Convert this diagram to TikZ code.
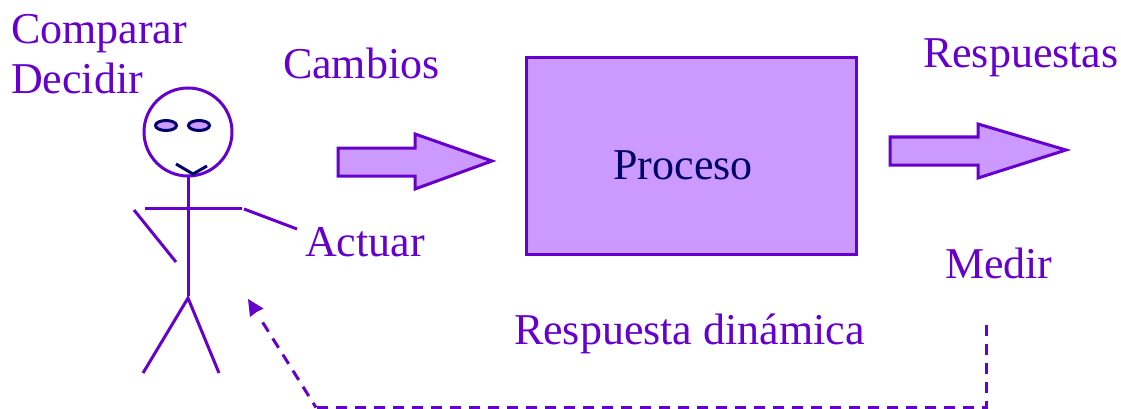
\documentclass[tikz,border=0pt]{standalone}
\usepackage{fontspec}
\setmainfont{Liberation Serif}
\usetikzlibrary{arrows.meta,calc,shapes.geometric}
\definecolor{violetline}{HTML}{6600CC}
\definecolor{lilacfill}{HTML}{CC99FF}
\definecolor{navyink}{HTML}{000066}
\tikzset{
  label text/.style={text=violetline,font=\fontsize{44}{44}\selectfont,anchor=base west,inner sep=0pt,outer sep=0pt},
  stickline/.style={draw=violetline,line width=3pt},
  facemark/.style={draw=navyink,line width=3pt},
  block arrow/.style={draw=violetline,fill=lilacfill,line width=3pt,miter limit=10},
  feedback/.style={draw=violetline,line width=3pt,dash pattern=on 11pt off 8pt}
}
\begin{document}
\begin{tikzpicture}[x=1pt,y=-1pt]
\useasboundingbox (0,0) rectangle (1121,409);

% Labels
\node[label text] (comparar) at (11,44) {Comparar};
\node[label text] (decidir) at (11,94) {Decidir};
\node[label text] (cambios) at (283,79) {Cambios};
\node[label text] (respuestas) at (923,68) {Respuestas};
\node[label text] (actuar) at (305,256) {Actuar};
\node[label text] (medir) at (945,278) {Medir};
\node[label text] (dinamica) at (514,344) {Respuesta dinámica};

% Process block
\node[draw=violetline,fill=lilacfill,line width=3pt,minimum width=329.5pt,minimum height=196.5pt,
      inner sep=0pt,outer sep=0pt,anchor=north west] (proceso) at (526.5,57.5) {};
\node[text=navyink,font=\fontsize{44}{44}\selectfont,anchor=base,inner sep=0pt] (procesotext) at (683,179) {Proceso};

% Block arrows for the input changes and the output responses
\draw[block arrow] (338,148) -- (415,148) -- (415,134) -- (492,161) -- (415,189) -- (415,176) -- (338,176) -- cycle;
\draw[block arrow] (890,137) -- (978,137) -- (978,124) -- (1066,150) -- (978,178) -- (978,165) -- (890,165) -- cycle;

% Stick figure
\node[circle,draw=violetline,line width=3pt,minimum size=88pt,inner sep=0pt,outer sep=0pt] (head) at (188,132) {};
\node[ellipse,facemark,fill=lilacfill,minimum width=21pt,minimum height=10pt,inner sep=0pt,outer sep=0pt] (lefteye) at (166,125.5) {};
\node[ellipse,facemark,fill=lilacfill,minimum width=21pt,minimum height=10pt,inner sep=0pt,outer sep=0pt] (righteye) at (199,125.5) {};
\coordinate (mouthl) at (176,164);
\coordinate (mouthm) at (193,174);
\coordinate (mouthr) at (207,166);
\draw[facemark] (mouthl) -- (mouthm) -- (mouthr);
\coordinate (hip) at (188,296);
\coordinate (shoulderl) at (145,208);
\coordinate (shoulderr) at (242,208);
\draw[stickline] (head.south) -- (hip);
\draw[stickline] (shoulderl) -- (shoulderr);
\coordinate (armrt) at (244,209);
\coordinate (armre) at (297,229);
\coordinate (armlt) at (134,210);
\coordinate (armle) at (176,262);
\draw[stickline] (armrt) -- (armre);
\draw[stickline] (armlt) -- (armle);
\coordinate (crotch) at (188,298);
\coordinate (footl) at (143,373);
\coordinate (footr) at (219,373);
\draw[stickline] (footl) -- (crotch) -- (footr);

% Dashed measurement feedback: the run along the bottom, then the rising leg with its head
\coordinate (fbstart) at (986,322);
\coordinate (fbcorner) at (986,407.5);
\coordinate (fbturn) at (316,407.5);
\coordinate (fbend) at (248,299);
\draw[feedback,dash phase=16.5pt] (fbstart) -- (fbcorner) -- (fbturn);
\draw[feedback,dash phase=5.5pt] (fbturn) -- ($(fbend)!0.215!(fbturn)$);
\fill[violetline] (fbend) -- (263.5,308.5) -- (256.5,312) -- (250,317) -- cycle;
\end{tikzpicture}
\end{document}
